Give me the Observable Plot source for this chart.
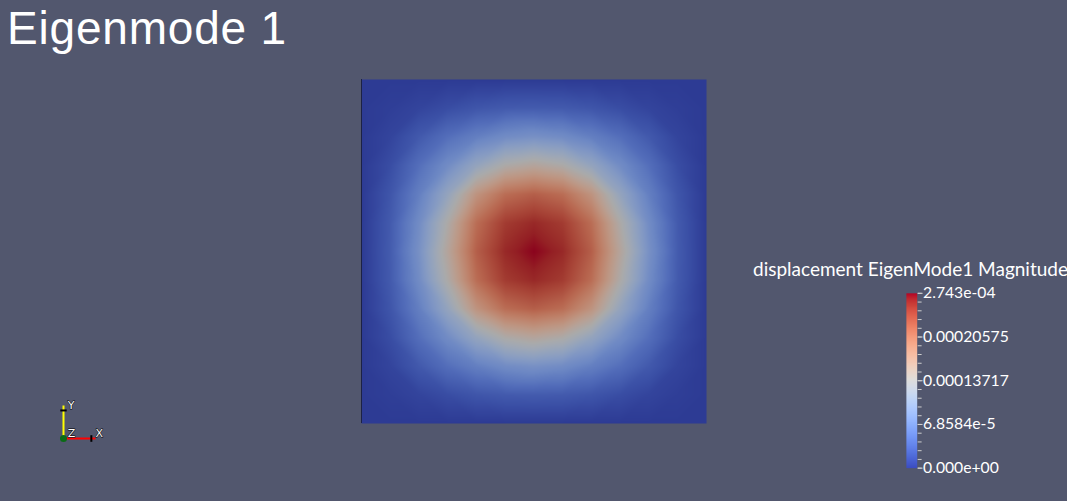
<!DOCTYPE html>
<html><head><meta charset="utf-8">
<script src="https://cdn.jsdelivr.net/npm/d3@7"></script>
<script src="https://cdn.jsdelivr.net/npm/@observablehq/plot@0.6"></script>
<style>
html,body{margin:0;padding:0;background:#52576e;width:1067px;height:501px;overflow:hidden;}
body{position:relative;font-family:Lato,"DejaVu Sans",sans-serif;color:#fff;}
#title{position:absolute;left:7px;top:0.5px;font-family:"Liberation Sans",Arial,sans-serif;font-size:46px;line-height:normal;letter-spacing:0.8px;white-space:nowrap;}
#cbtitle{position:absolute;left:753px;top:259px;font-size:19px;line-height:1;white-space:nowrap;}
.abs{position:absolute;}
svg{overflow:visible;}
</style></head><body>
<div id="title">Eigenmode 1</div>
<div id="cbtitle">displacement EigenMode1 Magnitude</div>
<div id="main" class="abs" style="left:361px;top:79px"></div>
<div id="bar" class="abs" style="left:900px;top:283px"></div>
<div id="triad" class="abs" style="left:50px;top:398px"></div>
<script>
// ---- data ----
const vmax = 2.743e-4;
// displacement magnitude sampled on a 13x13 grid over the square (units of 1e-4)
const gridRows = [
  [0,0,0,0,0,0,0,0,0,0,0,0,0],
  [0,0.03,0.08,0.15,0.22,0.26,0.27,0.26,0.22,0.15,0.08,0.03,0],
  [0,0.08,0.25,0.44,0.60,0.74,0.80,0.74,0.60,0.44,0.25,0.08,0],
  [0,0.15,0.44,0.74,1.10,1.40,1.51,1.40,1.10,0.74,0.44,0.15,0],
  [0,0.22,0.60,1.10,1.76,2.14,2.25,2.14,1.76,1.10,0.60,0.22,0],
  [0,0.26,0.74,1.40,2.14,2.50,2.61,2.50,2.14,1.40,0.74,0.26,0],
  [0,0.27,0.80,1.51,2.25,2.61,2.743,2.61,2.25,1.51,0.80,0.27,0],
  [0,0.26,0.74,1.40,2.14,2.50,2.61,2.50,2.14,1.40,0.74,0.26,0],
  [0,0.22,0.60,1.10,1.76,2.14,2.25,2.14,1.76,1.10,0.60,0.22,0],
  [0,0.15,0.44,0.74,1.10,1.40,1.51,1.40,1.10,0.74,0.44,0.15,0],
  [0,0.08,0.25,0.44,0.60,0.74,0.80,0.74,0.60,0.44,0.25,0.08,0],
  [0,0.03,0.08,0.15,0.22,0.26,0.27,0.26,0.22,0.15,0.08,0.03,0],
  [0,0,0,0,0,0,0,0,0,0,0,0,0]
];
const majorTicks = [0, 6.8584e-5, 1.3717e-4, 2.0575e-4, 2.743e-4];
const majorLabels = ["0.000e+00", "6.8584e-5", "0.00013717", "0.00020575", "2.743e-04"];
const minorTicks = [0,1,2,3,4,5,6,7,8,9,10,11,12,13,14,15,16,17,18,19,20].map(i => i * vmax / 20);
// ParaView "Cool to Warm" colour map
const coolWarm = ["#3b4cc0","#445acc","#4d68d7","#5775e1","#6282ea","#6c8ef1","#779af7","#82a5fb","#8db0fe","#98b9ff","#a3c2ff","#aec9fd","#b8d0f9","#c2d5f4","#ccd9ee","#d5dbe6","#dddddd","#e5d8d1","#ecd3c5","#f1ccb9","#f5c4ad","#f7bba0","#f7b194","#f7a687","#f49a7b","#f18d6f","#ec7f63","#e57058","#de604d","#d55042","#cb3e38","#c0282f","#b40426"];
const shade = 0.77;
const triadAxes = [{label: "X", x: 1, y: 0, color: "#ff0000"}, {label: "Y", x: 0, y: 1, color: "#ffff00"}];
const triadLabels = [{label: "X", x: 1.0, y: 0.15}, {label: "Y", x: 0.13, y: 1.0}, {label: "Z", x: 0.13, y: 0.15}];

// ---- main field ----
const n = gridRows.length;
const points = gridRows.flatMap((row, i) => row.map((v, j) => ({x: j / (n - 1), y: i / (n - 1), v: v * 1e-4})));
const shaded = coolWarm.map(c => { const r = d3.rgb(c); return d3.rgb(r.r * shade, r.g * shade, r.b * shade).formatHex(); });
const main = Plot.plot({
  width: 345, height: 344, margin: 0,
  style: {background: "transparent"},
  x: {domain: [0, 1], axis: null},
  y: {domain: [0, 1], axis: null},
  color: {type: "linear", domain: [0, vmax], interpolate: d3.piecewise(d3.interpolateRgb, shaded)},
  marks: [
    Plot.raster(points, {x: "x", y: "y", fill: "v", interpolate: "barycentric", x1: 0, x2: 1, y1: 0, y2: 1}),
    Plot.ruleX([0], {stroke: "#1d2244", strokeWidth: 1})
  ]
});
document.getElementById("main").append(main);

// ---- colour bar ----
const bar = Plot.plot({
  width: 170, height: 200,
  marginLeft: 6, marginRight: 153, marginTop: 10, marginBottom: 12,
  style: {background: "transparent", color: "white", fontFamily: "Lato, 'DejaVu Sans', sans-serif"},
  x: {domain: [0, 1], axis: null},
  y: {domain: [0, vmax], axis: null},
  color: {type: "linear", domain: [0, vmax], interpolate: d3.piecewise(d3.interpolateRgb, coolWarm)},
  marks: [
    Plot.raster({fill: (x, y) => y, x1: 0, x2: 1, y1: 0, y2: vmax}),
    Plot.axisY(minorTicks, {anchor: "right", tickSize: 4, tickFormat: () => "", stroke: "#d0d0d0"}),
    Plot.axisY(majorTicks, {anchor: "right", tickSize: 5, tickPadding: 1, fontSize: 16, stroke: "#d0d0d0",
      tickFormat: d => majorLabels[majorTicks.indexOf(d)]})
  ]
});
document.getElementById("bar").append(bar);

// ---- orientation triad ----
const triad = Plot.plot({
  width: 60, height: 50, margin: 0,
  style: {background: "transparent", color: "white", fontFamily: "'DejaVu Sans', sans-serif"},
  x: {domain: [0, 1], range: [13, 45], axis: null},
  y: {domain: [0, 1], range: [40, 7], axis: null},
  marks: [
    Plot.link(triadAxes, {x1: 0, y1: 0, x2: "x", y2: "y", stroke: "color", strokeWidth: 2}),
    Plot.link(triadAxes, {x1: d => d.x ? 0.87 : -0.1, x2: d => d.x ? 0.87 : 0.1, y1: d => d.y ? 0.85 : -0.1, y2: d => d.y ? 0.85 : 0.1, stroke: "black", strokeWidth: 2}),
    Plot.dot([{x: 0, y: 0}], {x: "x", y: "y", r: 3.5, fill: "#0b6b16"}),
    Plot.text(triadLabels, {x: "x", y: "y", text: "label", fill: "white", stroke: "black", strokeWidth: 1, paintOrder: "stroke", fontSize: 11, textAnchor: "start"})
  ]
});
document.getElementById("triad").append(triad);
</script>
</body></html>
